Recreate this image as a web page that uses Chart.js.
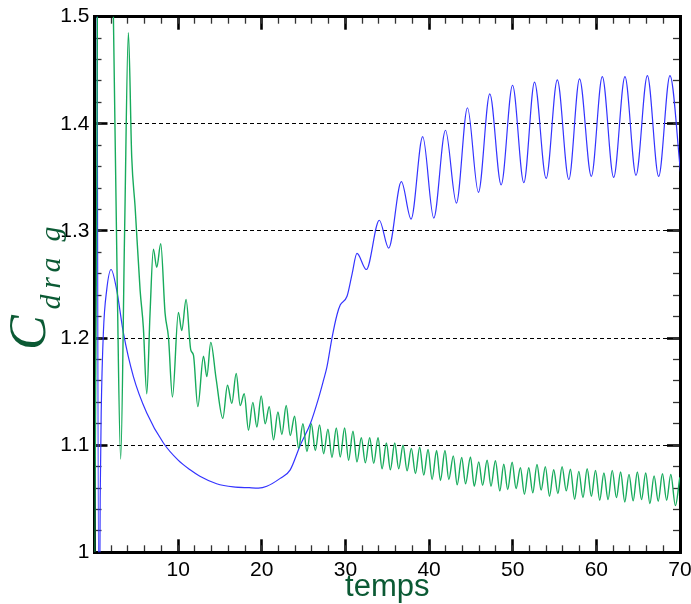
<!DOCTYPE html>
<html><head><meta charset="utf-8">
<script src="https://cdn.jsdelivr.net/npm/chart.js@4.4.1/dist/chart.umd.min.js"></script>
<style>html,body{margin:0;padding:0;background:#fff;overflow:hidden} canvas{display:block;}</style>
</head><body>
<canvas id="c" width="691" height="604"></canvas>
<script>
// ---- data ----
const xLabelTicks = [10, 20, 30, 40, 50, 60, 70];
const xMajorTicks = [0, 10, 20, 30, 40, 50, 60, 70];
const yTickValues = [1, 1.1, 1.2, 1.3, 1.4, 1.5];
const xLabel = "temps";

// blue series (time, Cdrag)
const blueT  = [0.15, 0.55, 0.68, 0.8, 1.06, 1.46, 1.98, 2.65, 3.45, 4.65, 6.25, 8.24, 10.0, 11.43, 12.6, 14.6, 16.6, 18.5, 19.6, 20.6, 22.2, 23.4, 24.6, 25.8, 26.79, 27.39, 27.79, 28.39, 29.0, 29.39, 30.19, 30.8, 31.38, 32.5, 34.05, 35.17, 36.69, 37.85, 39.24, 40.56, 41.96, 43.27, 44.59, 45.9, 47.26, 48.62, 49.98, 51.33, 52.61, 54.0, 55.33, 56.71, 57.99, 59.4, 60.71, 62.07, 63.42, 64.74, 66.1, 67.45, 68.8, 70.08];
const blueCd = [2.2, 0.88, 1.05, 1.13, 1.205, 1.245, 1.264, 1.245, 1.205, 1.164, 1.130, 1.102, 1.086, 1.077, 1.071, 1.064, 1.061, 1.0603, 1.060, 1.0617, 1.069, 1.077, 1.100, 1.120, 1.144, 1.161, 1.173, 1.200, 1.222, 1.231, 1.239, 1.260, 1.279, 1.264, 1.310, 1.284, 1.346, 1.311, 1.388, 1.312, 1.394, 1.326, 1.415, 1.336, 1.428, 1.343, 1.436, 1.345, 1.439, 1.349, 1.441, 1.348, 1.442, 1.351, 1.444, 1.350, 1.444, 1.352, 1.445, 1.351, 1.445, 1.354];

// green series (time, Cdrag)
const greenT  = [0.02, 0.25, 0.5, 1.5, 2.26, 2.7, 3.13, 3.6, 4.05, 4.45, 4.85, 5.45, 5.84, 6.25, 6.64, 7.04, 7.44, 7.92, 8.44, 8.84, 9.32, 10.03, 10.43, 10.95, 11.51, 11.83, 12.35, 13.03, 13.43, 13.9, 14.54, 15.34, 15.9, 16.42, 16.94, 17.42, 17.9, 18.41, 18.93, 19.41, 19.93,
  20.41, 20.89, 21.4, 21.93, 22.4, 22.92, 23.4, 23.92, 24.4, 24.92, 25.4, 25.92, 26.4, 26.91, 27.39, 27.91, 28.39, 28.91, 29.38, 29.9, 30.38, 30.9, 31.38, 31.9, 32.38, 32.9, 33.38, 33.9, 34.38, 34.9, 35.37, 35.89, 36.37, 36.89, 37.37, 37.88, 38.37, 38.88, 39.36, 39.88,
  40.36, 40.9, 41.36, 41.9, 42.36, 42.9, 43.36, 43.9, 44.36, 44.95, 45.4, 45.94, 46.4, 46.94, 47.4, 47.93, 48.46, 48.93, 49.4, 49.93, 50.4, 50.92, 51.4, 51.92, 52.4, 52.9, 53.4, 53.9, 54.4, 54.9, 55.4, 55.9, 56.4, 56.9, 57.4, 57.9, 58.4, 58.9, 59.4, 59.9,
  60.4, 60.9, 61.4, 61.9, 62.4, 62.9, 63.4, 63.9, 64.4, 64.9, 65.4, 65.9, 66.4, 66.9, 67.4, 67.9, 68.4, 68.9, 69.45, 69.98];
const greenCd = [1.0, 1.3, 1.8, 2.0, 1.5, 1.26, 1.087, 1.3, 1.485, 1.369, 1.323, 1.245, 1.21, 1.148, 1.223, 1.283, 1.266, 1.288, 1.223, 1.201, 1.145, 1.224, 1.207, 1.236, 1.189, 1.184, 1.136, 1.183, 1.164, 1.196, 1.162, 1.125, 1.156, 1.139, 1.167, 1.137, 1.148, 1.114, 1.140, 1.117, 1.146,
  1.120, 1.136, 1.105, 1.131, 1.110, 1.137, 1.109, 1.127, 1.097, 1.120, 1.094, 1.120, 1.095, 1.119, 1.092, 1.115, 1.0885, 1.116, 1.089, 1.116, 1.086, 1.113, 1.0844, 1.107, 1.0835, 1.107, 1.083, 1.107, 1.078, 1.102, 1.077, 1.102, 1.078, 1.100, 1.076, 1.097, 1.0735, 1.098, 1.072, 1.096,
  1.068, 1.095, 1.067, 1.095, 1.068, 1.090, 1.063, 1.0885, 1.064, 1.089, 1.0617, 1.0844, 1.0626, 1.086, 1.0617, 1.0855, 1.0573, 1.0822, 1.0586, 1.084, 1.0595, 1.079, 1.0542, 1.079, 1.0555, 1.082, 1.058, 1.080, 1.0523, 1.077, 1.0548, 1.080, 1.0573, 1.0775, 1.0495, 1.0755, 1.051, 1.078, 1.0523, 1.0765,
  1.0486, 1.074, 1.0492, 1.0765, 1.051, 1.075, 1.047, 1.0727, 1.048, 1.075, 1.0492, 1.074, 1.0455, 1.0713, 1.0477, 1.0733, 1.0486, 1.0727, 1.0436, 1.070];

// minor tick positions (axis decoration)
const xMinorTicks = Array.from({length: 36}, (_, i) => i * 2);
const yMinorTicks = Array.from({length: 26}, (_, i) => Math.round((1 + i * 0.02) * 100) / 100);

const BLUE = "#3434ff";
const GREEN = "#17ab5c";
const DARKGREEN = "#0b5a34";
const TICKFONT = {family: '"Liberation Sans", Arial, sans-serif', size: 21};

const toPts = (ts, vs) => ts.map((t, i) => ({x: t, y: vs[i]}));
const setTicks = vals => s => { s.ticks = vals.map(v => ({value: v})); };
const zeroH = s => { s.height = 0; s.paddingLeft = 0; s.paddingRight = 0; };
const zeroW = s => { s.width = 0; s.paddingTop = 0; s.paddingBottom = 0; };

function tickAxis(axis, position, min, max, vals, len, width, color, weight, showBorder) {
  return {type: 'linear', axis, position, min, max, display: true, weight,
    afterBuildTicks: setTicks(vals), ticks: {display: false},
    grid: {display: true, drawOnChartArea: false, drawTicks: true, tickLength: -len, tickWidth: width, tickColor: color, color: 'rgba(0,0,0,0)'},
    border: {display: showBorder, width: 3, color: '#000'},
    afterFit: axis === 'x' ? zeroH : zeroW};
}

const titlePlugin = {
  id: 'titles',
  afterDraw(chart) {
    const ctx = chart.ctx;
    const a = chart.chartArea;
    ctx.save();
    ctx.fillStyle = DARKGREEN;
    ctx.font = '31px "Liberation Sans", Arial, sans-serif';
    ctx.textAlign = 'center';
    ctx.textBaseline = 'alphabetic';
    ctx.fillText(xLabel, (a.left + a.right) / 2, 596);
    ctx.translate(45, 350);
    ctx.rotate(-Math.PI / 2);
    ctx.textAlign = 'left';
    ctx.font = 'italic 52px "Liberation Serif", "DejaVu Serif", serif';
    ctx.fillText('C', 0, 0);
    ctx.font = 'italic 30px "Liberation Serif", "DejaVu Serif", serif';
    const subCenters = [48, 67, 85, 116];
    const letters = ['d', 'r', 'a', 'g'];
    ctx.textAlign = 'center';
    letters.forEach((ch, i) => ctx.fillText(ch, subCenters[i], 15));
    ctx.restore();
  }
};

new Chart(document.getElementById('c'), {
  type: 'scatter',
  data: {
    datasets: [
      {label: 'green', data: toPts(greenT, greenCd), showLine: true, borderColor: GREEN, borderWidth: 1.4, pointRadius: 0, cubicInterpolationMode: 'monotone'},
      {label: 'blue', data: toPts(blueT, blueCd), showLine: true, borderColor: BLUE, borderWidth: 1.2, pointRadius: 0, cubicInterpolationMode: 'monotone'}
    ]
  },
  options: {
    responsive: false,
    animation: false,
    devicePixelRatio: 1,
    layout: {padding: {top: 16.7, right: 11, bottom: 0, left: 0}},
    plugins: {legend: {display: false}, tooltip: {enabled: false}},
    scales: {
      x: {
        type: 'linear', position: 'bottom', min: 0, max: 70, weight: 0,
        afterBuildTicks: setTicks(xLabelTicks),
        ticks: {padding: 18, color: '#000', font: TICKFONT, autoSkip: false},
        grid: {display: true, drawOnChartArea: false, drawTicks: true, tickLength: -13, tickWidth: 2.6, tickColor: '#000', color: 'rgba(0,0,0,0)'},
        border: {display: true, width: 3, color: '#000'},
        afterFit: s => { s.height = 51.7; s.paddingLeft = 0; s.paddingRight = 0; }
      },
      y: {
        type: 'linear', position: 'left', min: 1, max: 1.5, weight: 0,
        afterBuildTicks: setTicks(yTickValues),
        ticks: {padding: 18, color: '#000', font: TICKFONT, autoSkip: false,
          format: {minimumFractionDigits: 0, maximumFractionDigits: 1}},
        grid: {display: true, drawOnChartArea: true, drawTicks: true, tickLength: -13, tickWidth: 2.6, tickColor: '#000', lineWidth: 1,
          color: c => (c.tick && c.tick.value > 1.001 && c.tick.value < 1.499) ? '#000' : 'rgba(0,0,0,0)'},
        border: {display: true, width: 3, color: '#000', dash: [4, 3]},
        afterFit: s => { s.width = 94.5; s.paddingTop = 0; s.paddingBottom = 0; }
      },
      xMinor: tickAxis('x', 'bottom', 0, 70, xMinorTicks, 7, 1.3, '#333', -1, false),
      xTop: tickAxis('x', 'top', 0, 70, xMajorTicks, 13, 2.6, '#000', 0, true),
      xTopMinor: tickAxis('x', 'top', 0, 70, xMinorTicks, 7, 1.3, '#333', -1, false),
      yMinor: tickAxis('y', 'left', 1, 1.5, yMinorTicks, 7, 1.3, '#333', -1, false),
      yRight: tickAxis('y', 'right', 1, 1.5, yTickValues, 13, 2.6, '#000', 0, true),
      yRightMinor: tickAxis('y', 'right', 1, 1.5, yMinorTicks, 7, 1.3, '#333', -1, false)
    }
  },
  plugins: [titlePlugin]
});
</script>
</body></html>
